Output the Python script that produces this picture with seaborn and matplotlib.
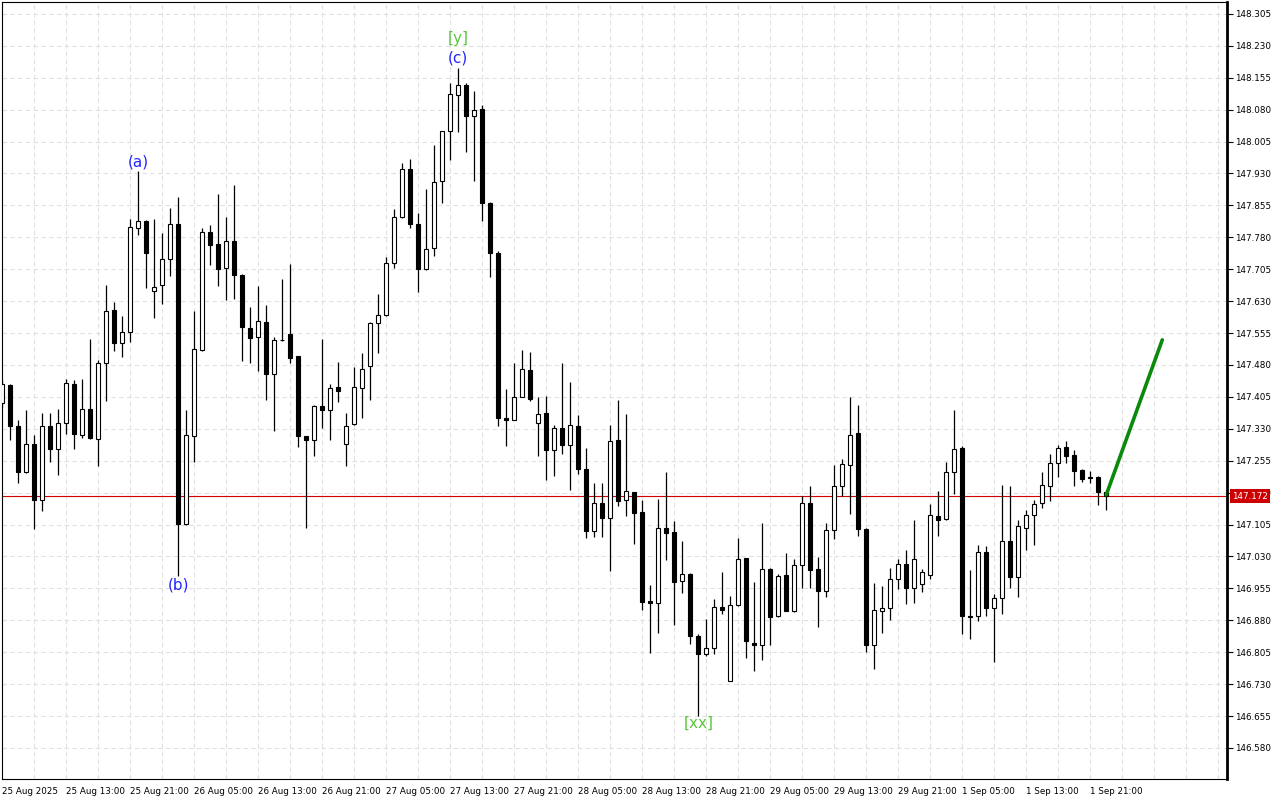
import numpy as np
import pandas as pd
import seaborn as sns
import matplotlib
matplotlib.use('Agg')
import matplotlib.pyplot as plt
import matplotlib.transforms as mtransforms

# USDJPY-style H1 bars, 25 Aug 05:00 -> 1 Sep 23:00 (weekend skipped)
opens = [147.391, 147.434, 147.337, 147.228, 147.295, 147.163, 147.336, 147.282, 147.344, 147.436,
         147.316, 147.377, 147.307, 147.485, 147.610, 147.532, 147.558, 147.803, 147.818, 147.653,
         147.667, 147.728, 147.811, 147.107, 147.312, 147.516, 147.793, 147.765, 147.708, 147.772,
         147.692, 147.567, 147.545, 147.582, 147.459, 147.539, 147.553, 147.500, 147.313, 147.304,
         147.384, 147.374, 147.429, 147.294, 147.341, 147.426, 147.477, 147.579, 147.598, 147.720,
         147.828, 147.941, 147.812, 147.705, 147.755, 147.912, 148.030, 148.115, 148.139, 148.065,
         148.082, 147.861, 147.743, 147.356, 147.351, 147.405, 147.468, 147.343, 147.367, 147.279,
         147.331, 147.291, 147.336, 147.235, 147.089, 147.155, 147.121, 147.304, 147.162, 147.181,
         147.134, 146.925, 146.921, 147.098, 147.087, 146.972, 146.988, 146.843, 146.801, 146.814,
         146.912, 146.738, 146.915, 147.026, 146.827, 146.822, 147.001, 146.889, 146.986, 146.902,
         147.011, 147.156, 147.001, 146.949, 147.093, 147.196, 147.246, 147.319, 147.095, 146.822,
         146.902, 146.910, 146.978, 147.013, 146.957, 146.966, 146.986, 147.125, 147.117, 147.228,
         147.285, 146.890, 146.889, 147.040, 146.908, 146.932, 147.066, 146.981, 147.098, 147.127,
         147.155, 147.195, 147.249, 147.287, 147.268, 147.233, 147.217, 147.217, 147.181]
highs = [147.445, 147.436, 147.351, 147.373, 147.316, 147.366, 147.366, 147.377, 147.446, 147.444,
         147.448, 147.542, 147.492, 147.667, 147.627, 147.594, 147.824, 147.936, 147.820, 147.823,
         147.789, 147.850, 147.875, 147.373, 147.606, 147.802, 147.810, 147.882, 147.827, 147.904,
         147.694, 147.617, 147.665, 147.620, 147.545, 147.683, 147.718, 147.502, 147.314, 147.386,
         147.540, 147.436, 147.486, 147.367, 147.475, 147.508, 147.581, 147.647, 147.733, 147.847,
         147.955, 147.964, 147.837, 147.894, 147.998, 148.030, 148.142, 148.179, 148.142, 148.125,
         148.090, 147.862, 147.749, 147.424, 147.485, 147.516, 147.511, 147.405, 147.408, 147.339,
         147.484, 147.440, 147.362, 147.284, 147.202, 147.202, 147.339, 147.397, 147.365, 147.182,
         147.162, 146.962, 147.165, 147.228, 147.113, 147.066, 146.990, 146.847, 146.882, 146.929,
         146.993, 146.937, 147.074, 147.027, 146.971, 147.109, 147.002, 146.989, 147.037, 147.023,
         147.171, 147.195, 147.029, 147.109, 147.244, 147.260, 147.405, 147.385, 147.096, 146.968,
         146.960, 147.004, 147.023, 147.044, 147.115, 147.000, 147.153, 147.184, 147.253, 147.375,
         147.290, 146.999, 147.057, 147.054, 146.941, 147.199, 147.196, 147.115, 147.139, 147.163,
         147.228, 147.271, 147.292, 147.302, 147.281, 147.235, 147.231, 147.218, 147.182]
lows = [147.380, 147.303, 147.203, 147.226, 147.095, 147.137, 147.252, 147.222, 147.317, 147.283,
        147.309, 147.305, 147.243, 147.395, 147.514, 147.499, 147.534, 147.785, 147.660, 147.591,
        147.623, 147.689, 146.985, 147.105, 147.251, 147.514, 147.716, 147.665, 147.632, 147.635,
        147.489, 147.484, 147.467, 147.398, 147.324, 147.536, 147.484, 147.288, 147.097, 147.267,
        147.331, 147.304, 147.392, 147.242, 147.339, 147.355, 147.398, 147.508, 147.594, 147.707,
        147.826, 147.802, 147.651, 147.704, 147.737, 147.860, 147.961, 148.027, 147.980, 147.912,
        147.819, 147.686, 147.336, 147.289, 147.350, 147.404, 147.395, 147.265, 147.210, 147.220,
        147.271, 147.187, 147.224, 147.074, 147.076, 147.076, 146.996, 147.149, 147.126, 147.060,
        146.903, 146.803, 146.850, 147.021, 146.868, 146.945, 146.825, 146.654, 146.796, 146.800,
        146.895, 146.737, 146.914, 146.791, 146.760, 146.787, 146.821, 146.888, 146.901, 146.899,
        146.956, 146.956, 146.864, 146.935, 147.071, 147.171, 147.129, 147.078, 146.805, 146.766,
        146.850, 146.881, 146.954, 146.919, 146.920, 146.946, 146.978, 147.077, 147.115, 147.177,
        146.847, 146.835, 146.878, 146.890, 146.781, 146.894, 146.955, 146.934, 147.044, 147.056,
        147.145, 147.161, 147.216, 147.249, 147.195, 147.206, 147.202, 147.152, 147.140]
closes = [147.436, 147.337, 147.228, 147.295, 147.163, 147.336, 147.282, 147.344, 147.438, 147.318,
          147.377, 147.309, 147.485, 147.608, 147.532, 147.558, 147.805, 147.818, 147.742, 147.663,
          147.728, 147.812, 147.107, 147.315, 147.518, 147.793, 147.762, 147.705, 147.772, 147.691,
          147.569, 147.543, 147.584, 147.459, 147.539, 147.538, 147.497, 147.312, 147.304, 147.384,
          147.374, 147.426, 147.418, 147.337, 147.429, 147.471, 147.579, 147.598, 147.720, 147.828,
          147.941, 147.812, 147.705, 147.753, 147.910, 148.029, 148.116, 148.139, 148.065, 148.080,
          147.860, 147.743, 147.355, 147.351, 147.404, 147.471, 147.399, 147.365, 147.279, 147.331,
          147.291, 147.338, 147.236, 147.090, 147.155, 147.121, 147.301, 147.160, 147.183, 147.133,
          146.923, 146.921, 147.097, 147.086, 146.970, 146.988, 146.843, 146.801, 146.814, 146.912,
          146.903, 146.915, 147.023, 146.831, 146.821, 147.001, 146.888, 146.983, 146.902, 147.011,
          147.156, 146.997, 146.949, 147.091, 147.196, 147.248, 147.316, 147.095, 146.822, 146.903,
          146.910, 146.978, 147.013, 146.957, 147.025, 146.993, 147.127, 147.115, 147.228, 147.282,
          146.889, 146.887, 147.040, 146.908, 146.932, 147.066, 146.981, 147.101, 147.127, 147.153,
          147.198, 147.249, 147.285, 147.265, 147.230, 147.213, 147.214, 147.181, 147.173]

time_labels = ['25 Aug 2025', '25 Aug 13:00', '25 Aug 21:00', '26 Aug 05:00', '26 Aug 13:00',
               '26 Aug 21:00', '27 Aug 05:00', '27 Aug 13:00', '27 Aug 21:00', '28 Aug 05:00',
               '28 Aug 13:00', '28 Aug 21:00', '29 Aug 05:00', '29 Aug 13:00', '29 Aug 21:00',
               '1 Sep 05:00', '1 Sep 13:00', '1 Sep 21:00']
label_every = 8

bid_price = 147.172

# projected move (green arrow line)
forecast_bars = [138, 145]
forecast_prices = [147.175, 147.539]

# wave marks: text, bar, placed at high or low
wave_texts = ['(a)', '(b)', '[y]', '(c)', '[xx]']
wave_bars = [17, 22, 57, 57, 87]
wave_at = ['high', 'low', 'high', 'high', 'low']
wave_colors = ['#2424ff', '#2424ff', '#58c83c', '#2424ff', '#58c83c']
wave_offsets = [6.5, -6.7, 20.6, 6.9, -4.8]

df = pd.DataFrame({'open': opens, 'high': highs, 'low': lows, 'close': closes})
df['bar'] = np.arange(len(df))
df['up'] = df['close'] >= df['open']

sns.set_style('white')
plt.rcParams['font.family'] = ['DejaVu Sans']

fig = plt.figure(figsize=(12.8, 8), dpi=100)
ax = fig.add_axes([2 / 1280, 21 / 800, 1225 / 1280, 777 / 800])

ax.set_xlim(-0.04, 153.09)
ax.set_ylim(146.507, 148.333)

# wicks and bodies
ax.vlines(df['bar'], df['low'], df['high'], color='black', linewidth=0.9, zorder=3)
body_bottom = df[['open', 'close']].min(axis=1)
body_height = (df['close'] - df['open']).abs().clip(lower=0.0006)
ax.bar(df['bar'], body_height, bottom=body_bottom, width=0.52,
       color=np.where(df['up'], 'white', 'black'), edgecolor='black',
       linewidth=0.8, zorder=4)

# forecast line
sns.lineplot(x=forecast_bars, y=forecast_prices, color='#0a8a0a', linewidth=2.6,
             ax=ax, zorder=5, legend=False)

# bid line + price tag
ax.axhline(bid_price, color='#d00000', linewidth=0.8, zorder=2)
tr = mtransforms.blended_transform_factory(ax.transAxes, ax.transData)
ax.text(1.0 + 5 / 1225, bid_price, f'{bid_price:.3f}', transform=tr, color='white',
        fontsize=6.3, va='center', ha='left', zorder=10,
        bbox=dict(boxstyle='square,pad=0.25', fc='#cc0000', ec='none'))

# wave labels
for txt, b, where, col, off in zip(wave_texts, wave_bars, wave_at, wave_colors, wave_offsets):
    y = df.loc[b, where]
    ax.annotate(txt, xy=(b, y), xytext=(0, off), textcoords='offset points',
                ha='center', va='center', color=col, fontsize=11, zorder=6)

# axes / ticks
yticks = np.round(146.580 + 0.075 * np.arange(24), 3)
ax.set_yticks(yticks)
ax.set_yticklabels([f'{v:.3f}' for v in yticks])
ax.yaxis.tick_right()
ax.tick_params(axis='y', which='major', length=4, width=0.8, pad=2, labelsize=6.3,
               direction='out', colors='black')

xt = np.arange(0, label_every * len(time_labels), label_every)
ax.set_xticks(xt)
ax.set_xticklabels(time_labels)
ax.set_xticks(np.arange(0, 154, 4), minor=True)
ax.tick_params(axis='x', which='major', length=4, width=0.8, pad=2, labelsize=6.3,
               direction='out', colors='black')
ax.tick_params(axis='x', which='minor', length=0)
for lbl in ax.get_xticklabels():
    lbl.set_horizontalalignment('left')

ax.grid(True, which='both', axis='x', color='#e0e0e0', linestyle=(0, (4, 3)), linewidth=0.8)
ax.grid(True, which='major', axis='y', color='#e0e0e0', linestyle=(0, (4, 3)), linewidth=0.8)
ax.set_axisbelow(True)

for side in ['left', 'top', 'bottom']:
    ax.spines[side].set_color('black')
    ax.spines[side].set_linewidth(0.8)
ax.spines['right'].set_color('black')
ax.spines['right'].set_linewidth(2)

ax.set_xlabel('')
ax.set_ylabel('')

fig.savefig('out.png', dpi=100)
